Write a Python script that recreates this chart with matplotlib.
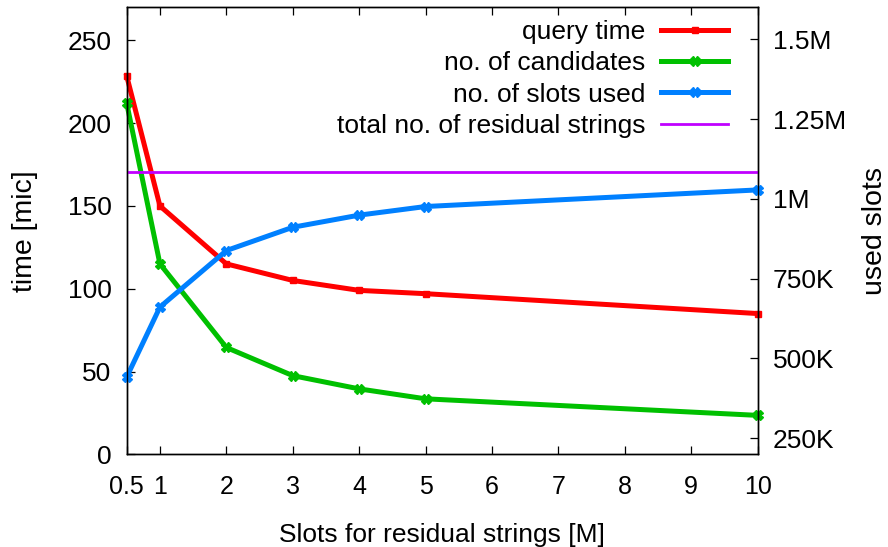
import numpy as np
import matplotlib
matplotlib.use('Agg')
import matplotlib.pyplot as plt
from matplotlib.ticker import FuncFormatter

plt.rcParams['font.family'] = ['Liberation Sans', 'DejaVu Sans']

# slots reserved for residual strings, in millions
slots = [0.5, 1, 2, 3, 4, 5, 10]
query_time = [228.5, 150, 115, 105, 99, 97, 85]          # mic
candidates = [212, 115, 64.5, 47.5, 39.5, 33.5, 23.5]
slots_used = [442e3, 661e3, 838e3, 911e3, 949e3, 976e3, 1028e3]
total_residual = 1085e3

xticks = [0.5, 1, 2, 3, 4, 5, 6, 7, 8, 9, 10]
xticklabels = ['0.5', '1', '2', '3', '4', '5', '6', '7', '8', '9', '10']
left_ticks = [0, 50, 100, 150, 200, 250]
right_ticks = [250e3, 500e3, 750e3, 1000e3, 1250e3, 1500e3]

RED = '#ff0000'
GREEN = '#00c000'
BLUE = '#0080ff'
PURPLE = '#c000ff'

fig = plt.figure(figsize=(8.88, 5.47), dpi=100)
ax = fig.add_axes([0.1427, 0.1695, 0.8533 - 0.1427, 0.9867 - 0.1695])
ax2 = ax.twinx()

l1, = ax.plot(slots, query_time, color=RED, lw=3.6, marker='s', ms=4.5,
              label='query time', clip_on=False)
l2, = ax.plot(slots, candidates, color=GREEN, lw=3.6, marker='X', ms=7,
              label='no. of candidates', clip_on=False)
l3, = ax2.plot(slots, slots_used, color=BLUE, lw=3.6, marker='X', ms=7,
               label='no. of slots used', clip_on=False)
l4 = ax2.axhline(total_residual, color=PURPLE, lw=2.0,
                 label='total no. of residual strings')

ax.set_xlim(0.5, 10)
ax.set_ylim(0, 270)
ax2.set_ylim(200e3, 1600e3)

ax.set_xticks(xticks)
ax.set_xticklabels(xticklabels)
ax.set_yticks(left_ticks)
ax2.set_yticks(right_ticks)


def fmt_slots(v, pos):
    if v >= 1e6:
        return '%gM' % (v / 1e6)
    return '%dK' % round(v / 1e3)


ax2.yaxis.set_major_formatter(FuncFormatter(fmt_slots))

ax.tick_params(axis='x', direction='in', top=True, length=5.5, width=0.9,
               labelsize=18, pad=15)
ax.tick_params(axis='y', direction='in', length=5.5, width=0.9,
               labelsize=19, pad=11)
ax2.tick_params(axis='y', direction='in', length=5.5, width=0.9,
                labelsize=19, pad=11)
for a in (ax, ax2):
    for s in a.spines.values():
        s.set_linewidth(1.0)

ax.set_xlabel('Slots for residual strings [M]', fontsize=19, labelpad=17.5)
ax.set_ylabel('time [mic]', fontsize=20.5, labelpad=21)
ax2.set_ylabel('used slots', fontsize=20.5, labelpad=11.5)

ax2.legend(handles=[l1, l2, l3, l4], loc='upper right',
           bbox_to_anchor=(0.953, 0.972), frameon=False, markerfirst=False,
           fontsize=19, handlelength=2.54, handletextpad=0.6,
           labelspacing=0.28, borderpad=0, borderaxespad=0)

fig.savefig('out.png', dpi=100)
